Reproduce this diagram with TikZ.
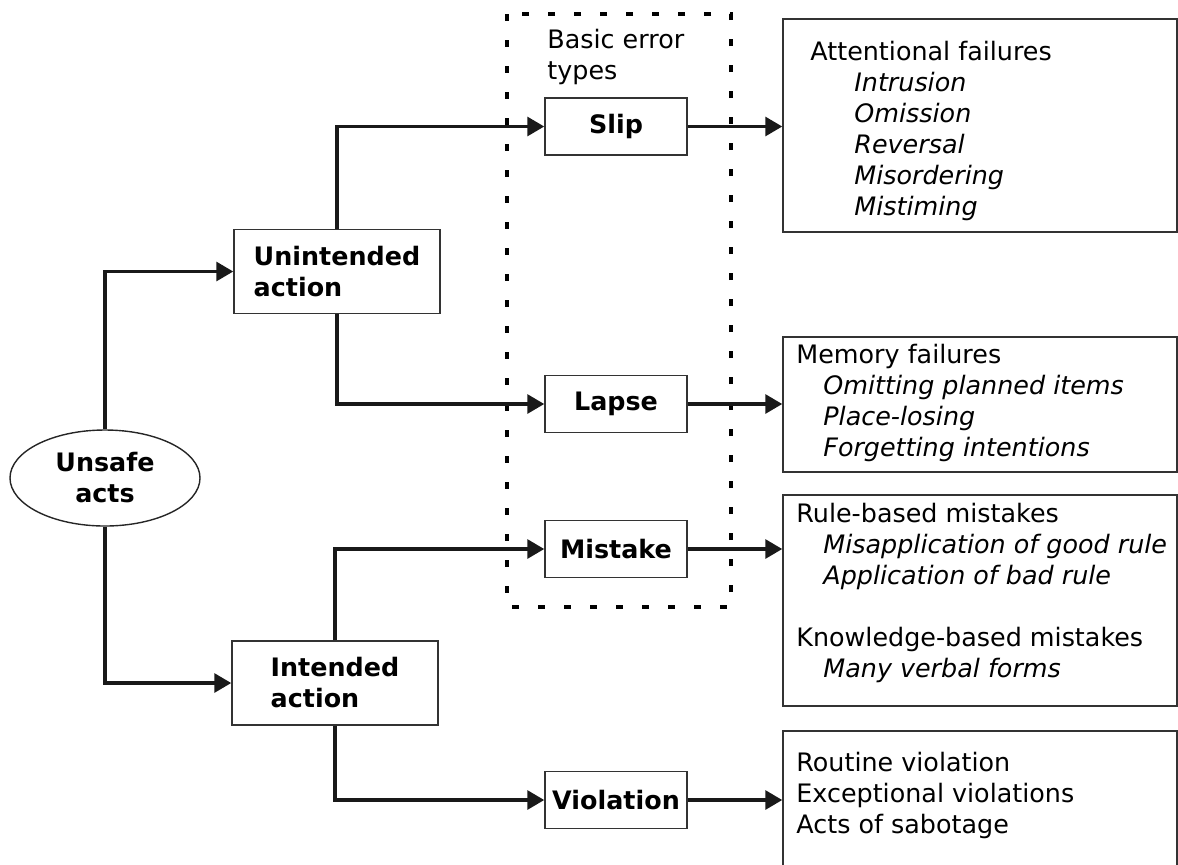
\documentclass[tikz,border=0pt]{standalone}
\usepackage{fontspec}
\setmainfont{DejaVu Sans}
\usepackage{tikz}
\usetikzlibrary{arrows.meta,shapes.geometric}
\newcommand{\diagfont}{\fontsize{12.7}{15.5}\selectfont}
\tikzset{
  cbox/.style ={rectangle, draw=black!80, line width=0.75pt, align=left, inner sep=0pt,
                minimum width=103pt, minimum height=42pt, font=\diagfont\bfseries},
  ebox/.style ={cbox, align=center, minimum width=71pt, minimum height=28.5pt},
  acts/.style ={ellipse, draw=black!85, line width=0.7pt, align=center, inner sep=0pt,
                minimum width=95pt, minimum height=48pt, font=\diagfont\bfseries},
  dbox/.style ={rectangle, draw=black!80, line width=0.75pt, minimum width=197pt},
  dtxt/.style ={anchor=north west, inner sep=0pt, align=left, font=\diagfont},
  frame/.style={draw=black, line width=1.6pt, dash pattern=on 3.5pt off 9.5pt},
  arr/.style  ={-{Triangle[length=8.5pt,width=9.5pt]}, line width=1.6pt, black!90},
}
\newcommand{\itm}[2]{\hspace*{#1}\textit{#2}}

\begin{document}
\begin{tikzpicture}[x=0.5pt,y=-0.5pt]
  \useasboundingbox (0,0) rectangle (1178,864);
  \clip (0,0) rectangle (1178,864);
  % basic error types
  \draw[frame] (507,14) rectangle (731,607);
  \node[dtxt] (basic) at (547,29) {Basic error\\types};
  \node[acts] (unsafe) at (105,478) {Unsafe\\acts};
  \node[cbox] (unint) at (337,271.5) {Unintended\\action};
  \node[cbox] (intd) at (335,683) {Intended\\action};
  \node[ebox] (slip) at (616,126.5) {Slip};
  \node[ebox] (lapse) at (616,404) {Lapse};
  \node[ebox] (mistake) at (616,549) {Mistake};
  \node[ebox] (viol) at (616,800) {Violation};
  % failure descriptions
  \node[dbox, minimum height=106.5pt] (attbox) at (980,125.5) {};
  \node[dbox, minimum height=67.5pt] (membox) at (980,404.5) {};
  \node[dbox, minimum height=105.5pt] (rulebox) at (980,600.5) {};
  \node[dbox, minimum height=75pt] (viobox) at (980,806) {};
  \node[dtxt] (atttxt) at (810,41) {Attentional failures\\
    \itm{22pt}{Intrusion}\\ \itm{22pt}{Omission}\\ \itm{22pt}{Reversal}\\
    \itm{22pt}{Misordering}\\ \itm{22pt}{Mistiming}};
  \node[dtxt] (memtxt) at (796,344) {Memory failures\\
    \itm{13.5pt}{Omitting planned items}\\ \itm{13.5pt}{Place-losing}\\
    \itm{13.5pt}{Forgetting intentions}};
  \node[dtxt] (ruletxt) at (796,503) {Rule-based mistakes\\
    \itm{13.5pt}{Misapplication of good rule}\\ \itm{13.5pt}{Application of bad rule}\\[15.5pt]
    Knowledge-based mistakes\\ \itm{13.5pt}{Many verbal forms}};
  \node[dtxt] (viotxt) at (796,752) {Routine violation\\Exceptional violations\\Acts of sabotage};
  % connectors
  \draw[arr] (unsafe.north) |- (unint.west);
  \draw[arr] (unsafe.south) |- (intd.west);
  \draw[arr] (unint.north) |- (slip.west);
  \draw[arr] (unint.south) |- (lapse.west);
  \draw[arr] (intd.north) |- (mistake.west);
  \draw[arr] (intd.south) |- (viol.west);
  \draw[arr] (slip.east) -- (slip.east -| attbox.west);
  \draw[arr] (lapse.east) -- (lapse.east -| membox.west);
  \draw[arr] (mistake.east) -- (mistake.east -| rulebox.west);
  \draw[arr] (viol.east) -- (viol.east -| viobox.west);
\end{tikzpicture}
\end{document}
